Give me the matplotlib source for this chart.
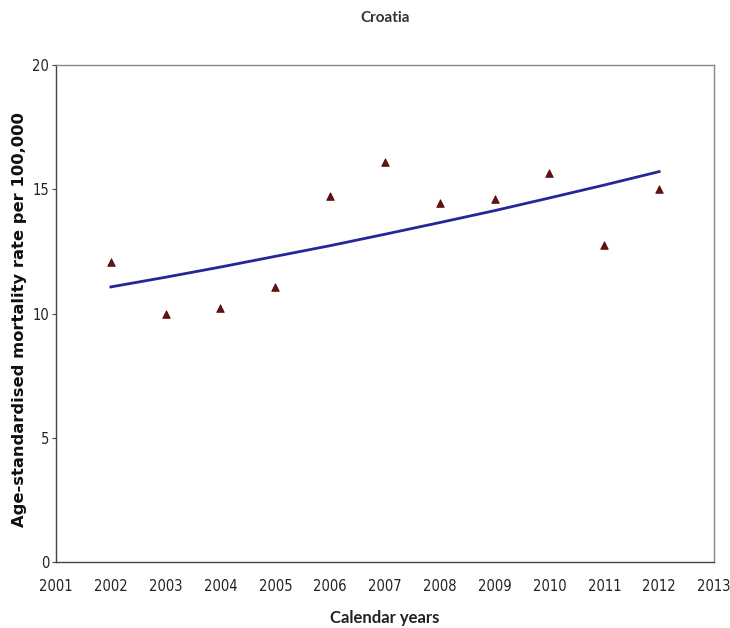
import matplotlib
matplotlib.use("Agg")
import matplotlib.pyplot as plt

years = [2002, 2003, 2004, 2005, 2006, 2007, 2008, 2009, 2010, 2011, 2012]
rates = [12.08, 9.96, 10.23, 11.06, 14.71, 16.08, 14.45, 14.61, 15.65, 12.74, 15.03]
trend = [11.07, 11.46, 11.87, 12.30, 12.73, 13.19, 13.66, 14.14, 14.65, 15.17, 15.71]
xticks = list(range(2001, 2014))
yticks = [0, 5, 10, 15, 20]

fig = plt.figure(figsize=(7.30, 6.28), dpi=100)
ax = fig.add_axes([56/730, 1-562/628, (714-56)/730, (562-65)/628])

ax.plot(years, trend, color="#26269a", lw=2.0, zorder=2)
ax.scatter(years, rates, marker="^", s=30, color="#6b0f12", edgecolors="#3a0000", linewidths=0.5, zorder=3)

ax.set_xlim(2001, 2013)
ax.set_ylim(0, 20)
ax.set_xticks(xticks)
ax.set_yticks(yticks)
tickfont = dict(family="DejaVu Sans", stretch="condensed", size=10.5, color="#222222")
ax.set_xticklabels([str(x) for x in xticks], **tickfont)
ax.set_yticklabels([str(y) for y in yticks], **tickfont)
ax.tick_params(axis="x", length=0, pad=12)
ax.tick_params(axis="y", length=3, width=0.8, pad=2, color="#444444")

for s in ["left", "bottom"]:
    ax.spines[s].set_color("#444444")
    ax.spines[s].set_linewidth(1.0)
for s in ["top", "right"]:
    ax.spines[s].set_color("#888888")
    ax.spines[s].set_linewidth(1.0)

fig.text(385/730, 1-18/628, "Croatia", ha="center", va="center", fontsize=11, fontweight="bold",
         family="Lato", color="#333333")
fig.text(385/730, 1-618/628, "Calendar years", ha="center", va="center", fontsize=12, fontweight="bold",
         family="Lato", color="#222222")
fig.text(20/730, 1-320/628, "Age-standardised mortality rate per 100,000", ha="center", va="center",
         rotation=90, fontsize=11.8, fontweight="bold", color="#111111")

fig.savefig("out.png", dpi=100, facecolor="white")
